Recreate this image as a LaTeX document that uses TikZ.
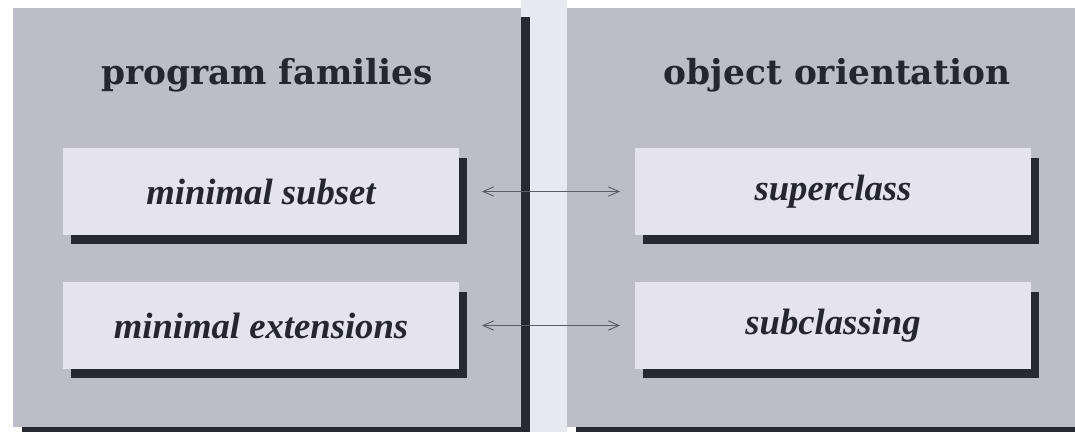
\documentclass[tikz,border=0pt]{standalone}
\usepackage{fontspec}
\newfontfamily\boxfont{Liberation Serif}
\newfontfamily\titlefont{DejaVu Serif}
\usetikzlibrary{arrows.meta,shadows}
\definecolor{panelgray}{RGB}{189,189,199}
\definecolor{gapcol}{RGB}{232,232,240}
\definecolor{boxfill}{RGB}{229,227,237}
\definecolor{shadowc}{RGB}{40,40,48}
\definecolor{ink}{RGB}{38,38,48}

\begin{document}
\begin{tikzpicture}[x=0.75pt,y=-0.75pt]
    \tikzstyle{title}=[anchor=base, text=ink, font=\titlefont\bfseries\fontsize{25.8}{28}\selectfont]
    \tikzstyle{box}=[fill=boxfill, text=ink, minimum width=297pt, minimum height=65pt,
        font=\boxfont\bfseries\itshape\fontsize{27.5}{30}\selectfont,
        drop shadow={shadow xshift=6pt, shadow yshift=-7pt, fill=shadowc, opacity=1}]
    \tikzstyle{link}=[{Straight Barb[length=8pt,width=7pt]}-{Straight Barb[length=8pt,width=7pt]},
        line width=0.7pt, ink!75]

    \useasboundingbox (0,0) rectangle (1075,432);
    \fill[white] (0,0) rectangle (1075,432);
    \fill[gapcol] (521,0) rectangle (567,432);

    % panels
    \fill[shadowc] (22,17) rectangle (530,432);
    \fill[panelgray] (13,8) rectangle (521,427);
    \fill[shadowc] (576,17) rectangle (1075,432);
    \fill[panelgray] (567,8) rectangle (1075,427);

    % titles
    \node[title] (pf) at (267,84) {program families};
    \node[title] (oo) at (837,84) {object orientation};

    % left boxes
    \node[box] (minsub) at (261,191.5) {minimal subset};
    \node[box] (minext) at (261,325.5) {minimal extensions};

    % right boxes
    \node[box] (super) at (833,191.5) {superclass};
    \node[box] (sub) at (833,325.5) {subclassing};

    % links
    \draw[link, shorten <=17pt, shorten >=11pt] (minsub) -- (super);
    \draw[link, shorten <=17pt, shorten >=11pt] (minext) -- (sub);

\end{tikzpicture}
\end{document}
